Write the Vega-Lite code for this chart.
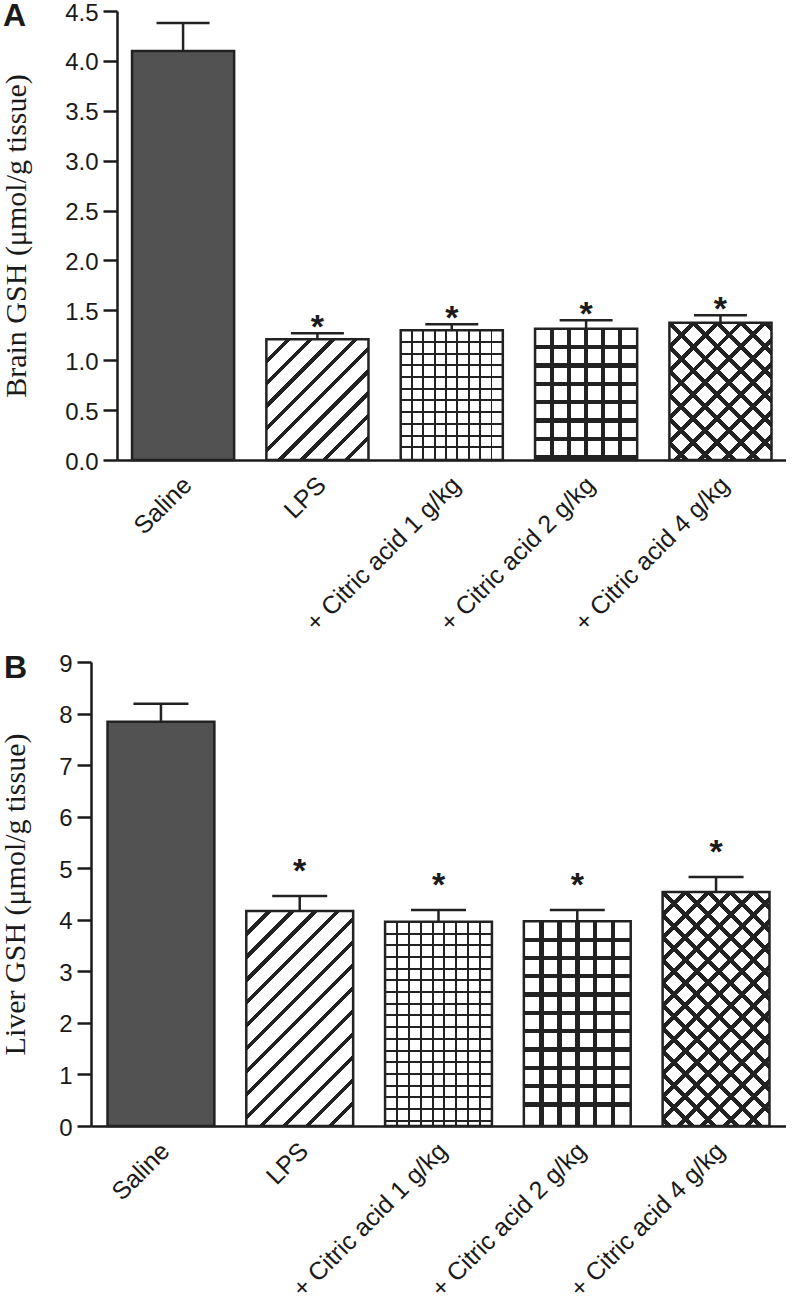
{
"$schema":"https://vega.github.io/schema/vega-lite/v6.json",
"background":"white",
"padding":{"left":0,"top":0,"right":0,"bottom":0},
"config":{
 "view":{"stroke":null},
 "font":"Liberation Sans",
 "axis":{"domainColor":"#1a1a1a","domainWidth":2.5,"tickColor":"#1a1a1a","tickWidth":2.5,"labelColor":"#1a1a1a","titleColor":"#1a1a1a","grid":false,"labelFont":"Liberation Sans","labelLimit":400},
 "axisY":{"tickSize":14,"labelFontSize":24,"labelPadding":5,"labelOffset":2,"titleFont":"Liberation Serif","titleFontSize":30,"titleFontWeight":"normal"},
 "axisX":{"ticks":false,"tickSize":0,"labelAngle":-45,"labelFontSize":25,"labelPadding":12,"labelOffset":-4}
},
"datasets":{
 "brain":[
  {"group":"Saline","mean":4.10,"hi":4.38,"sig":""},
  {"group":"LPS","mean":1.21,"hi":1.27,"sig":"*"},
  {"group":"+ Citric acid 1 g/kg","mean":1.30,"hi":1.36,"sig":"*"},
  {"group":"+ Citric acid 2 g/kg","mean":1.315,"hi":1.40,"sig":"*"},
  {"group":"+ Citric acid 4 g/kg","mean":1.375,"hi":1.45,"sig":"*"}
 ],
 "liver":[
  {"group":"Saline","mean":7.84,"hi":8.19,"sig":""},
  {"group":"LPS","mean":4.17,"hi":4.46,"sig":"*"},
  {"group":"+ Citric acid 1 g/kg","mean":3.96,"hi":4.19,"sig":"*"},
  {"group":"+ Citric acid 2 g/kg","mean":3.97,"hi":4.19,"sig":"*"},
  {"group":"+ Citric acid 4 g/kg","mean":4.54,"hi":4.83,"sig":"*"}
 ]
},
"concat":[
 {
  "data":{"name":"brain"},
  "width":695,"height":449,
  "title":{"text":"A","anchor":"start","frame":"bounds","fontSize":32,"fontWeight":"bold","font":"Liberation Sans","color":"#1a1a1a","offset":-33,"dx":2},
  "encoding":{
   "x":{"field":"group","type":"nominal","sort":null,"title":null,"scale":{"paddingInner":0.24,"paddingOuter":0.2066,"align":0.739},"axis":{"domainDash":[0,26,1000]}},
   "y":{"field":"mean","type":"quantitative","title":"Brain GSH (μmol/g tissue)","scale":{"domain":[0,4.5],"nice":false},"axis":{"values":[0,0.5,1,1.5,2,2.5,3,3.5,4,4.5],"format":".1f","titlePadding":33.6,"offset":-26}}
  },
  "layer":[
   {"mark":{"type":"bar","strokeWidth":0},
    "encoding":{"fill":{"condition":[
     {"test":"datum.group === 'LPS'","value":{"gradient":"linear","x1":0,"y1":0,"x2":0.9102,"y2":1.076,"stops":[{"offset":0,"color":"#fff"},{"offset":0.088,"color":"#fff"},{"offset":0.088,"color":"#222"},{"offset":0.112,"color":"#222"},{"offset":0.112,"color":"#fff"},{"offset":0.188,"color":"#fff"},{"offset":0.188,"color":"#222"},{"offset":0.212,"color":"#222"},{"offset":0.212,"color":"#fff"},{"offset":0.288,"color":"#fff"},{"offset":0.288,"color":"#222"},{"offset":0.312,"color":"#222"},{"offset":0.312,"color":"#fff"},{"offset":0.388,"color":"#fff"},{"offset":0.388,"color":"#222"},{"offset":0.412,"color":"#222"},{"offset":0.412,"color":"#fff"},{"offset":0.488,"color":"#fff"},{"offset":0.488,"color":"#222"},{"offset":0.512,"color":"#222"},{"offset":0.512,"color":"#fff"},{"offset":0.588,"color":"#fff"},{"offset":0.588,"color":"#222"},{"offset":0.612,"color":"#222"},{"offset":0.612,"color":"#fff"},{"offset":0.688,"color":"#fff"},{"offset":0.688,"color":"#222"},{"offset":0.712,"color":"#222"},{"offset":0.712,"color":"#fff"},{"offset":0.788,"color":"#fff"},{"offset":0.788,"color":"#222"},{"offset":0.812,"color":"#222"},{"offset":0.812,"color":"#fff"},{"offset":0.888,"color":"#fff"},{"offset":0.888,"color":"#222"},{"offset":0.912,"color":"#222"},{"offset":0.912,"color":"#fff"},{"offset":1,"color":"#fff"}]}},
     {"test":"datum.group === '+ Citric acid 1 g/kg'","value":{"gradient":"linear","x1":0,"y1":0,"x2":1,"y2":0,"stops":[{"offset":0,"color":"#fff"},{"offset":0.1016,"color":"#fff"},{"offset":0.1016,"color":"#222"},{"offset":0.1206,"color":"#222"},{"offset":0.1206,"color":"#fff"},{"offset":0.2127,"color":"#fff"},{"offset":0.2127,"color":"#222"},{"offset":0.2317,"color":"#222"},{"offset":0.2317,"color":"#fff"},{"offset":0.3238,"color":"#fff"},{"offset":0.3238,"color":"#222"},{"offset":0.3428,"color":"#222"},{"offset":0.3428,"color":"#fff"},{"offset":0.4349,"color":"#fff"},{"offset":0.4349,"color":"#222"},{"offset":0.4539,"color":"#222"},{"offset":0.4539,"color":"#fff"},{"offset":0.5461,"color":"#fff"},{"offset":0.5461,"color":"#222"},{"offset":0.5651,"color":"#222"},{"offset":0.5651,"color":"#fff"},{"offset":0.6572,"color":"#fff"},{"offset":0.6572,"color":"#222"},{"offset":0.6762,"color":"#222"},{"offset":0.6762,"color":"#fff"},{"offset":0.7683,"color":"#fff"},{"offset":0.7683,"color":"#222"},{"offset":0.7873,"color":"#222"},{"offset":0.7873,"color":"#fff"},{"offset":0.8794,"color":"#fff"},{"offset":0.8794,"color":"#222"},{"offset":0.8984,"color":"#222"},{"offset":0.8984,"color":"#fff"},{"offset":1,"color":"#fff"}]}},
     {"test":"datum.group === '+ Citric acid 2 g/kg'","value":{"gradient":"linear","x1":0,"y1":0,"x2":1,"y2":0,"stops":[{"offset":0,"color":"#fff"},{"offset":0.1457,"color":"#fff"},{"offset":0.1457,"color":"#222"},{"offset":0.1877,"color":"#222"},{"offset":0.1877,"color":"#fff"},{"offset":0.3123,"color":"#fff"},{"offset":0.3123,"color":"#222"},{"offset":0.3543,"color":"#222"},{"offset":0.3543,"color":"#fff"},{"offset":0.479,"color":"#fff"},{"offset":0.479,"color":"#222"},{"offset":0.521,"color":"#222"},{"offset":0.521,"color":"#fff"},{"offset":0.6457,"color":"#fff"},{"offset":0.6457,"color":"#222"},{"offset":0.6877,"color":"#222"},{"offset":0.6877,"color":"#fff"},{"offset":0.8123,"color":"#fff"},{"offset":0.8123,"color":"#222"},{"offset":0.8543,"color":"#222"},{"offset":0.8543,"color":"#fff"},{"offset":1,"color":"#fff"}]}},
     {"test":"datum.group === '+ Citric acid 4 g/kg'","value":{"gradient":"linear","x1":0,"y1":0,"x2":0.8354,"y2":1.1225,"stops":[{"offset":0,"color":"#fff"},{"offset":0.0875,"color":"#fff"},{"offset":0.0875,"color":"#222"},{"offset":0.1125,"color":"#222"},{"offset":0.1125,"color":"#fff"},{"offset":0.1875,"color":"#fff"},{"offset":0.1875,"color":"#222"},{"offset":0.2125,"color":"#222"},{"offset":0.2125,"color":"#fff"},{"offset":0.2875,"color":"#fff"},{"offset":0.2875,"color":"#222"},{"offset":0.3125,"color":"#222"},{"offset":0.3125,"color":"#fff"},{"offset":0.3875,"color":"#fff"},{"offset":0.3875,"color":"#222"},{"offset":0.4125,"color":"#222"},{"offset":0.4125,"color":"#fff"},{"offset":0.4875,"color":"#fff"},{"offset":0.4875,"color":"#222"},{"offset":0.5125,"color":"#222"},{"offset":0.5125,"color":"#fff"},{"offset":0.5875,"color":"#fff"},{"offset":0.5875,"color":"#222"},{"offset":0.6125,"color":"#222"},{"offset":0.6125,"color":"#fff"},{"offset":0.6875,"color":"#fff"},{"offset":0.6875,"color":"#222"},{"offset":0.7125,"color":"#222"},{"offset":0.7125,"color":"#fff"},{"offset":0.7875,"color":"#fff"},{"offset":0.7875,"color":"#222"},{"offset":0.8125,"color":"#222"},{"offset":0.8125,"color":"#fff"},{"offset":0.8875,"color":"#fff"},{"offset":0.8875,"color":"#222"},{"offset":0.9125,"color":"#222"},{"offset":0.9125,"color":"#fff"},{"offset":1,"color":"#fff"}]}}
    ],"value":"#525252"}}},
   {"mark":{"type":"bar","stroke":"#222","strokeWidth":2.5},
    "encoding":{"fill":{"condition":[
     {"test":"datum.group === '+ Citric acid 1 g/kg'","value":{"gradient":"linear","x1":0,"y1":0,"x2":0,"y2":1,"stops":[{"offset":0,"color":"rgba(34,34,34,0)"},{"offset":0.0825,"color":"rgba(34,34,34,0)"},{"offset":0.0825,"color":"#222"},{"offset":0.0979,"color":"#222"},{"offset":0.0979,"color":"rgba(34,34,34,0)"},{"offset":0.1727,"color":"rgba(34,34,34,0)"},{"offset":0.1727,"color":"#222"},{"offset":0.1881,"color":"#222"},{"offset":0.1881,"color":"rgba(34,34,34,0)"},{"offset":0.2629,"color":"rgba(34,34,34,0)"},{"offset":0.2629,"color":"#222"},{"offset":0.2783,"color":"#222"},{"offset":0.2783,"color":"rgba(34,34,34,0)"},{"offset":0.3531,"color":"rgba(34,34,34,0)"},{"offset":0.3531,"color":"#222"},{"offset":0.3685,"color":"#222"},{"offset":0.3685,"color":"rgba(34,34,34,0)"},{"offset":0.4433,"color":"rgba(34,34,34,0)"},{"offset":0.4433,"color":"#222"},{"offset":0.4587,"color":"#222"},{"offset":0.4587,"color":"rgba(34,34,34,0)"},{"offset":0.5335,"color":"rgba(34,34,34,0)"},{"offset":0.5335,"color":"#222"},{"offset":0.5489,"color":"#222"},{"offset":0.5489,"color":"rgba(34,34,34,0)"},{"offset":0.6237,"color":"rgba(34,34,34,0)"},{"offset":0.6237,"color":"#222"},{"offset":0.6391,"color":"#222"},{"offset":0.6391,"color":"rgba(34,34,34,0)"},{"offset":0.7139,"color":"rgba(34,34,34,0)"},{"offset":0.7139,"color":"#222"},{"offset":0.7293,"color":"#222"},{"offset":0.7293,"color":"rgba(34,34,34,0)"},{"offset":0.8041,"color":"rgba(34,34,34,0)"},{"offset":0.8041,"color":"#222"},{"offset":0.8195,"color":"#222"},{"offset":0.8195,"color":"rgba(34,34,34,0)"},{"offset":0.8943,"color":"rgba(34,34,34,0)"},{"offset":0.8943,"color":"#222"},{"offset":0.9097,"color":"#222"},{"offset":0.9097,"color":"rgba(34,34,34,0)"},{"offset":1,"color":"rgba(34,34,34,0)"}]}},
     {"test":"datum.group === '+ Citric acid 2 g/kg'","value":{"gradient":"linear","x1":0,"y1":0,"x2":0,"y2":1,"stops":[{"offset":0,"color":"rgba(34,34,34,0)"},{"offset":0.1233,"color":"rgba(34,34,34,0)"},{"offset":0.1233,"color":"#222"},{"offset":0.1561,"color":"#222"},{"offset":0.1561,"color":"rgba(34,34,34,0)"},{"offset":0.263,"color":"rgba(34,34,34,0)"},{"offset":0.263,"color":"#222"},{"offset":0.2958,"color":"#222"},{"offset":0.2958,"color":"rgba(34,34,34,0)"},{"offset":0.4027,"color":"rgba(34,34,34,0)"},{"offset":0.4027,"color":"#222"},{"offset":0.4355,"color":"#222"},{"offset":0.4355,"color":"rgba(34,34,34,0)"},{"offset":0.5424,"color":"rgba(34,34,34,0)"},{"offset":0.5424,"color":"#222"},{"offset":0.5752,"color":"#222"},{"offset":0.5752,"color":"rgba(34,34,34,0)"},{"offset":0.6821,"color":"rgba(34,34,34,0)"},{"offset":0.6821,"color":"#222"},{"offset":0.7149,"color":"#222"},{"offset":0.7149,"color":"rgba(34,34,34,0)"},{"offset":0.8218,"color":"rgba(34,34,34,0)"},{"offset":0.8218,"color":"#222"},{"offset":0.8546,"color":"#222"},{"offset":0.8546,"color":"rgba(34,34,34,0)"},{"offset":0.9615,"color":"rgba(34,34,34,0)"},{"offset":0.9615,"color":"#222"},{"offset":0.9943,"color":"#222"},{"offset":0.9943,"color":"rgba(34,34,34,0)"},{"offset":1,"color":"rgba(34,34,34,0)"}]}},
     {"test":"datum.group === '+ Citric acid 4 g/kg'","value":{"gradient":"linear","x1":0,"y1":1,"x2":0.8354,"y2":-0.1225,"stops":[{"offset":0,"color":"rgba(34,34,34,0)"},{"offset":0.0608,"color":"rgba(34,34,34,0)"},{"offset":0.0608,"color":"#222"},{"offset":0.0858,"color":"#222"},{"offset":0.0858,"color":"rgba(34,34,34,0)"},{"offset":0.1608,"color":"rgba(34,34,34,0)"},{"offset":0.1608,"color":"#222"},{"offset":0.1858,"color":"#222"},{"offset":0.1858,"color":"rgba(34,34,34,0)"},{"offset":0.2608,"color":"rgba(34,34,34,0)"},{"offset":0.2608,"color":"#222"},{"offset":0.2858,"color":"#222"},{"offset":0.2858,"color":"rgba(34,34,34,0)"},{"offset":0.3608,"color":"rgba(34,34,34,0)"},{"offset":0.3608,"color":"#222"},{"offset":0.3858,"color":"#222"},{"offset":0.3858,"color":"rgba(34,34,34,0)"},{"offset":0.4608,"color":"rgba(34,34,34,0)"},{"offset":0.4608,"color":"#222"},{"offset":0.4858,"color":"#222"},{"offset":0.4858,"color":"rgba(34,34,34,0)"},{"offset":0.5608,"color":"rgba(34,34,34,0)"},{"offset":0.5608,"color":"#222"},{"offset":0.5858,"color":"#222"},{"offset":0.5858,"color":"rgba(34,34,34,0)"},{"offset":0.6608,"color":"rgba(34,34,34,0)"},{"offset":0.6608,"color":"#222"},{"offset":0.6858,"color":"#222"},{"offset":0.6858,"color":"rgba(34,34,34,0)"},{"offset":0.7608,"color":"rgba(34,34,34,0)"},{"offset":0.7608,"color":"#222"},{"offset":0.7858,"color":"#222"},{"offset":0.7858,"color":"rgba(34,34,34,0)"},{"offset":0.8608,"color":"rgba(34,34,34,0)"},{"offset":0.8608,"color":"#222"},{"offset":0.8858,"color":"#222"},{"offset":0.8858,"color":"rgba(34,34,34,0)"},{"offset":0.9608,"color":"rgba(34,34,34,0)"},{"offset":0.9608,"color":"#222"},{"offset":0.9858,"color":"#222"},{"offset":0.9858,"color":"rgba(34,34,34,0)"},{"offset":1,"color":"rgba(34,34,34,0)"}]}}
    ],"value":"transparent"}}},
   {"mark":{"type":"rule","color":"#222","strokeWidth":2.5},"encoding":{"y2":{"field":"hi"}}},
   {"mark":{"type":"tick","orient":"horizontal","size":53,"thickness":2.5,"color":"#222","opacity":1},
    "encoding":{"y":{"field":"hi","type":"quantitative","title":"Brain GSH (μmol/g tissue)","scale":{"domain":[0,4.5],"nice":false}}}},
   {"mark":{"type":"text","fontSize":34,"fontWeight":"bold","baseline":"alphabetic","dy":4.5,"color":"#1a1a1a"},
    "encoding":{"y":{"field":"hi","type":"quantitative","title":"Brain GSH (μmol/g tissue)","scale":{"domain":[0,4.5],"nice":false}},"text":{"field":"sig"}}}
  ]
 },
 {
  "data":{"name":"liver"},
  "width":695,"height":464,
  "title":{"text":"B","anchor":"start","frame":"bounds","fontSize":32,"fontWeight":"bold","font":"Liberation Sans","color":"#1a1a1a","offset":-33,"dx":3},
  "encoding":{
   "x":{"field":"group","type":"nominal","sort":null,"title":null,"scale":{"paddingInner":0.23,"paddingOuter":0.119}},
   "y":{"field":"mean","type":"quantitative","title":"Liver GSH (μmol/g tissue)","scale":{"domain":[0,9],"nice":false},"axis":{"values":[0,1,2,3,4,5,6,7,8,9],"format":"d","titlePadding":27.7}}
  },
  "layer":[
   {"mark":{"type":"bar","strokeWidth":0},
    "encoding":{"fill":{"condition":[
     {"test":"datum.group === 'LPS'","value":{"gradient":"linear","x1":0,"y1":0,"x2":0.5967,"y2":1.2005,"stops":[{"offset":0,"color":"#fff"},{"offset":0.0629,"color":"#fff"},{"offset":0.0629,"color":"#222"},{"offset":0.0799,"color":"#222"},{"offset":0.0799,"color":"#fff"},{"offset":0.1344,"color":"#fff"},{"offset":0.1344,"color":"#222"},{"offset":0.1514,"color":"#222"},{"offset":0.1514,"color":"#fff"},{"offset":0.2058,"color":"#fff"},{"offset":0.2058,"color":"#222"},{"offset":0.2228,"color":"#222"},{"offset":0.2228,"color":"#fff"},{"offset":0.2772,"color":"#fff"},{"offset":0.2772,"color":"#222"},{"offset":0.2942,"color":"#222"},{"offset":0.2942,"color":"#fff"},{"offset":0.3486,"color":"#fff"},{"offset":0.3486,"color":"#222"},{"offset":0.3656,"color":"#222"},{"offset":0.3656,"color":"#fff"},{"offset":0.4201,"color":"#fff"},{"offset":0.4201,"color":"#222"},{"offset":0.4371,"color":"#222"},{"offset":0.4371,"color":"#fff"},{"offset":0.4915,"color":"#fff"},{"offset":0.4915,"color":"#222"},{"offset":0.5085,"color":"#222"},{"offset":0.5085,"color":"#fff"},{"offset":0.5629,"color":"#fff"},{"offset":0.5629,"color":"#222"},{"offset":0.5799,"color":"#222"},{"offset":0.5799,"color":"#fff"},{"offset":0.6344,"color":"#fff"},{"offset":0.6344,"color":"#222"},{"offset":0.6514,"color":"#222"},{"offset":0.6514,"color":"#fff"},{"offset":0.7058,"color":"#fff"},{"offset":0.7058,"color":"#222"},{"offset":0.7228,"color":"#222"},{"offset":0.7228,"color":"#fff"},{"offset":0.7772,"color":"#fff"},{"offset":0.7772,"color":"#222"},{"offset":0.7942,"color":"#222"},{"offset":0.7942,"color":"#fff"},{"offset":0.8486,"color":"#fff"},{"offset":0.8486,"color":"#222"},{"offset":0.8656,"color":"#222"},{"offset":0.8656,"color":"#fff"},{"offset":0.9201,"color":"#fff"},{"offset":0.9201,"color":"#222"},{"offset":0.9371,"color":"#222"},{"offset":0.9371,"color":"#fff"},{"offset":1,"color":"#fff"}]}},
     {"test":"datum.group === '+ Citric acid 1 g/kg'","value":{"gradient":"linear","x1":0,"y1":0,"x2":1,"y2":0,"stops":[{"offset":0,"color":"#fff"},{"offset":0.1016,"color":"#fff"},{"offset":0.1016,"color":"#222"},{"offset":0.1206,"color":"#222"},{"offset":0.1206,"color":"#fff"},{"offset":0.2127,"color":"#fff"},{"offset":0.2127,"color":"#222"},{"offset":0.2317,"color":"#222"},{"offset":0.2317,"color":"#fff"},{"offset":0.3238,"color":"#fff"},{"offset":0.3238,"color":"#222"},{"offset":0.3428,"color":"#222"},{"offset":0.3428,"color":"#fff"},{"offset":0.4349,"color":"#fff"},{"offset":0.4349,"color":"#222"},{"offset":0.4539,"color":"#222"},{"offset":0.4539,"color":"#fff"},{"offset":0.5461,"color":"#fff"},{"offset":0.5461,"color":"#222"},{"offset":0.5651,"color":"#222"},{"offset":0.5651,"color":"#fff"},{"offset":0.6572,"color":"#fff"},{"offset":0.6572,"color":"#222"},{"offset":0.6762,"color":"#222"},{"offset":0.6762,"color":"#fff"},{"offset":0.7683,"color":"#fff"},{"offset":0.7683,"color":"#222"},{"offset":0.7873,"color":"#222"},{"offset":0.7873,"color":"#fff"},{"offset":0.8794,"color":"#fff"},{"offset":0.8794,"color":"#222"},{"offset":0.8984,"color":"#222"},{"offset":0.8984,"color":"#fff"},{"offset":1,"color":"#fff"}]}},
     {"test":"datum.group === '+ Citric acid 2 g/kg'","value":{"gradient":"linear","x1":0,"y1":0,"x2":1,"y2":0,"stops":[{"offset":0,"color":"#fff"},{"offset":0.1457,"color":"#fff"},{"offset":0.1457,"color":"#222"},{"offset":0.1877,"color":"#222"},{"offset":0.1877,"color":"#fff"},{"offset":0.3123,"color":"#fff"},{"offset":0.3123,"color":"#222"},{"offset":0.3543,"color":"#222"},{"offset":0.3543,"color":"#fff"},{"offset":0.479,"color":"#fff"},{"offset":0.479,"color":"#222"},{"offset":0.521,"color":"#222"},{"offset":0.521,"color":"#fff"},{"offset":0.6457,"color":"#fff"},{"offset":0.6457,"color":"#222"},{"offset":0.6877,"color":"#222"},{"offset":0.6877,"color":"#fff"},{"offset":0.8123,"color":"#fff"},{"offset":0.8123,"color":"#222"},{"offset":0.8543,"color":"#222"},{"offset":0.8543,"color":"#fff"},{"offset":1,"color":"#fff"}]}},
     {"test":"datum.group === '+ Citric acid 4 g/kg'","value":{"gradient":"linear","x1":0,"y1":0,"x2":0.5503,"y2":1.2053,"stops":[{"offset":0,"color":"#fff"},{"offset":0.0579,"color":"#fff"},{"offset":0.0579,"color":"#222"},{"offset":0.0755,"color":"#222"},{"offset":0.0755,"color":"#fff"},{"offset":0.1245,"color":"#fff"},{"offset":0.1245,"color":"#222"},{"offset":0.1421,"color":"#222"},{"offset":0.1421,"color":"#fff"},{"offset":0.1912,"color":"#fff"},{"offset":0.1912,"color":"#222"},{"offset":0.2088,"color":"#222"},{"offset":0.2088,"color":"#fff"},{"offset":0.2579,"color":"#fff"},{"offset":0.2579,"color":"#222"},{"offset":0.2755,"color":"#222"},{"offset":0.2755,"color":"#fff"},{"offset":0.3245,"color":"#fff"},{"offset":0.3245,"color":"#222"},{"offset":0.3421,"color":"#222"},{"offset":0.3421,"color":"#fff"},{"offset":0.3912,"color":"#fff"},{"offset":0.3912,"color":"#222"},{"offset":0.4088,"color":"#222"},{"offset":0.4088,"color":"#fff"},{"offset":0.4579,"color":"#fff"},{"offset":0.4579,"color":"#222"},{"offset":0.4755,"color":"#222"},{"offset":0.4755,"color":"#fff"},{"offset":0.5245,"color":"#fff"},{"offset":0.5245,"color":"#222"},{"offset":0.5421,"color":"#222"},{"offset":0.5421,"color":"#fff"},{"offset":0.5912,"color":"#fff"},{"offset":0.5912,"color":"#222"},{"offset":0.6088,"color":"#222"},{"offset":0.6088,"color":"#fff"},{"offset":0.6579,"color":"#fff"},{"offset":0.6579,"color":"#222"},{"offset":0.6755,"color":"#222"},{"offset":0.6755,"color":"#fff"},{"offset":0.7245,"color":"#fff"},{"offset":0.7245,"color":"#222"},{"offset":0.7421,"color":"#222"},{"offset":0.7421,"color":"#fff"},{"offset":0.7912,"color":"#fff"},{"offset":0.7912,"color":"#222"},{"offset":0.8088,"color":"#222"},{"offset":0.8088,"color":"#fff"},{"offset":0.8579,"color":"#fff"},{"offset":0.8579,"color":"#222"},{"offset":0.8755,"color":"#222"},{"offset":0.8755,"color":"#fff"},{"offset":0.9245,"color":"#fff"},{"offset":0.9245,"color":"#222"},{"offset":0.9421,"color":"#222"},{"offset":0.9421,"color":"#fff"},{"offset":1,"color":"#fff"}]}}
    ],"value":"#525252"}}},
   {"mark":{"type":"bar","stroke":"#222","strokeWidth":2.5},
    "encoding":{"fill":{"condition":[
     {"test":"datum.group === '+ Citric acid 1 g/kg'","value":{"gradient":"linear","x1":0,"y1":0,"x2":0,"y2":1,"stops":[{"offset":0,"color":"rgba(34,34,34,0)"},{"offset":0.0524,"color":"rgba(34,34,34,0)"},{"offset":0.0524,"color":"#222"},{"offset":0.0622,"color":"#222"},{"offset":0.0622,"color":"rgba(34,34,34,0)"},{"offset":0.1097,"color":"rgba(34,34,34,0)"},{"offset":0.1097,"color":"#222"},{"offset":0.1195,"color":"#222"},{"offset":0.1195,"color":"rgba(34,34,34,0)"},{"offset":0.167,"color":"rgba(34,34,34,0)"},{"offset":0.167,"color":"#222"},{"offset":0.1768,"color":"#222"},{"offset":0.1768,"color":"rgba(34,34,34,0)"},{"offset":0.2243,"color":"rgba(34,34,34,0)"},{"offset":0.2243,"color":"#222"},{"offset":0.2341,"color":"#222"},{"offset":0.2341,"color":"rgba(34,34,34,0)"},{"offset":0.2817,"color":"rgba(34,34,34,0)"},{"offset":0.2817,"color":"#222"},{"offset":0.2915,"color":"#222"},{"offset":0.2915,"color":"rgba(34,34,34,0)"},{"offset":0.339,"color":"rgba(34,34,34,0)"},{"offset":0.339,"color":"#222"},{"offset":0.3488,"color":"#222"},{"offset":0.3488,"color":"rgba(34,34,34,0)"},{"offset":0.3963,"color":"rgba(34,34,34,0)"},{"offset":0.3963,"color":"#222"},{"offset":0.4061,"color":"#222"},{"offset":0.4061,"color":"rgba(34,34,34,0)"},{"offset":0.4536,"color":"rgba(34,34,34,0)"},{"offset":0.4536,"color":"#222"},{"offset":0.4634,"color":"#222"},{"offset":0.4634,"color":"rgba(34,34,34,0)"},{"offset":0.5109,"color":"rgba(34,34,34,0)"},{"offset":0.5109,"color":"#222"},{"offset":0.5207,"color":"#222"},{"offset":0.5207,"color":"rgba(34,34,34,0)"},{"offset":0.5682,"color":"rgba(34,34,34,0)"},{"offset":0.5682,"color":"#222"},{"offset":0.578,"color":"#222"},{"offset":0.578,"color":"rgba(34,34,34,0)"},{"offset":0.6255,"color":"rgba(34,34,34,0)"},{"offset":0.6255,"color":"#222"},{"offset":0.6353,"color":"#222"},{"offset":0.6353,"color":"rgba(34,34,34,0)"},{"offset":0.6828,"color":"rgba(34,34,34,0)"},{"offset":0.6828,"color":"#222"},{"offset":0.6926,"color":"#222"},{"offset":0.6926,"color":"rgba(34,34,34,0)"},{"offset":0.7401,"color":"rgba(34,34,34,0)"},{"offset":0.7401,"color":"#222"},{"offset":0.7499,"color":"#222"},{"offset":0.7499,"color":"rgba(34,34,34,0)"},{"offset":0.7974,"color":"rgba(34,34,34,0)"},{"offset":0.7974,"color":"#222"},{"offset":0.8072,"color":"#222"},{"offset":0.8072,"color":"rgba(34,34,34,0)"},{"offset":0.8548,"color":"rgba(34,34,34,0)"},{"offset":0.8548,"color":"#222"},{"offset":0.8646,"color":"#222"},{"offset":0.8646,"color":"rgba(34,34,34,0)"},{"offset":0.9121,"color":"rgba(34,34,34,0)"},{"offset":0.9121,"color":"#222"},{"offset":0.9219,"color":"#222"},{"offset":0.9219,"color":"rgba(34,34,34,0)"},{"offset":0.9694,"color":"rgba(34,34,34,0)"},{"offset":0.9694,"color":"#222"},{"offset":0.9792,"color":"#222"},{"offset":0.9792,"color":"rgba(34,34,34,0)"},{"offset":1,"color":"rgba(34,34,34,0)"}]}},
     {"test":"datum.group === '+ Citric acid 2 g/kg'","value":{"gradient":"linear","x1":0,"y1":0,"x2":0,"y2":1,"stops":[{"offset":0,"color":"rgba(34,34,34,0)"},{"offset":0.0791,"color":"rgba(34,34,34,0)"},{"offset":0.0791,"color":"#222"},{"offset":0.1001,"color":"#222"},{"offset":0.1001,"color":"rgba(34,34,34,0)"},{"offset":0.1686,"color":"rgba(34,34,34,0)"},{"offset":0.1686,"color":"#222"},{"offset":0.1896,"color":"#222"},{"offset":0.1896,"color":"rgba(34,34,34,0)"},{"offset":0.2582,"color":"rgba(34,34,34,0)"},{"offset":0.2582,"color":"#222"},{"offset":0.2792,"color":"#222"},{"offset":0.2792,"color":"rgba(34,34,34,0)"},{"offset":0.3477,"color":"rgba(34,34,34,0)"},{"offset":0.3477,"color":"#222"},{"offset":0.3687,"color":"#222"},{"offset":0.3687,"color":"rgba(34,34,34,0)"},{"offset":0.4373,"color":"rgba(34,34,34,0)"},{"offset":0.4373,"color":"#222"},{"offset":0.4583,"color":"#222"},{"offset":0.4583,"color":"rgba(34,34,34,0)"},{"offset":0.5268,"color":"rgba(34,34,34,0)"},{"offset":0.5268,"color":"#222"},{"offset":0.5478,"color":"#222"},{"offset":0.5478,"color":"rgba(34,34,34,0)"},{"offset":0.6164,"color":"rgba(34,34,34,0)"},{"offset":0.6164,"color":"#222"},{"offset":0.6374,"color":"#222"},{"offset":0.6374,"color":"rgba(34,34,34,0)"},{"offset":0.7059,"color":"rgba(34,34,34,0)"},{"offset":0.7059,"color":"#222"},{"offset":0.7269,"color":"#222"},{"offset":0.7269,"color":"rgba(34,34,34,0)"},{"offset":0.7955,"color":"rgba(34,34,34,0)"},{"offset":0.7955,"color":"#222"},{"offset":0.8165,"color":"#222"},{"offset":0.8165,"color":"rgba(34,34,34,0)"},{"offset":0.885,"color":"rgba(34,34,34,0)"},{"offset":0.885,"color":"#222"},{"offset":0.906,"color":"#222"},{"offset":0.906,"color":"rgba(34,34,34,0)"},{"offset":1,"color":"rgba(34,34,34,0)"}]}},
     {"test":"datum.group === '+ Citric acid 4 g/kg'","value":{"gradient":"linear","x1":0,"y1":1,"x2":0.5503,"y2":-0.2053,"stops":[{"offset":0,"color":"rgba(34,34,34,0)"},{"offset":0.0111,"color":"rgba(34,34,34,0)"},{"offset":0.0111,"color":"#222"},{"offset":0.0287,"color":"#222"},{"offset":0.0287,"color":"rgba(34,34,34,0)"},{"offset":0.0777,"color":"rgba(34,34,34,0)"},{"offset":0.0777,"color":"#222"},{"offset":0.0953,"color":"#222"},{"offset":0.0953,"color":"rgba(34,34,34,0)"},{"offset":0.1444,"color":"rgba(34,34,34,0)"},{"offset":0.1444,"color":"#222"},{"offset":0.162,"color":"#222"},{"offset":0.162,"color":"rgba(34,34,34,0)"},{"offset":0.2111,"color":"rgba(34,34,34,0)"},{"offset":0.2111,"color":"#222"},{"offset":0.2287,"color":"#222"},{"offset":0.2287,"color":"rgba(34,34,34,0)"},{"offset":0.2777,"color":"rgba(34,34,34,0)"},{"offset":0.2777,"color":"#222"},{"offset":0.2953,"color":"#222"},{"offset":0.2953,"color":"rgba(34,34,34,0)"},{"offset":0.3444,"color":"rgba(34,34,34,0)"},{"offset":0.3444,"color":"#222"},{"offset":0.362,"color":"#222"},{"offset":0.362,"color":"rgba(34,34,34,0)"},{"offset":0.4111,"color":"rgba(34,34,34,0)"},{"offset":0.4111,"color":"#222"},{"offset":0.4287,"color":"#222"},{"offset":0.4287,"color":"rgba(34,34,34,0)"},{"offset":0.4777,"color":"rgba(34,34,34,0)"},{"offset":0.4777,"color":"#222"},{"offset":0.4953,"color":"#222"},{"offset":0.4953,"color":"rgba(34,34,34,0)"},{"offset":0.5444,"color":"rgba(34,34,34,0)"},{"offset":0.5444,"color":"#222"},{"offset":0.562,"color":"#222"},{"offset":0.562,"color":"rgba(34,34,34,0)"},{"offset":0.6111,"color":"rgba(34,34,34,0)"},{"offset":0.6111,"color":"#222"},{"offset":0.6287,"color":"#222"},{"offset":0.6287,"color":"rgba(34,34,34,0)"},{"offset":0.6777,"color":"rgba(34,34,34,0)"},{"offset":0.6777,"color":"#222"},{"offset":0.6953,"color":"#222"},{"offset":0.6953,"color":"rgba(34,34,34,0)"},{"offset":0.7444,"color":"rgba(34,34,34,0)"},{"offset":0.7444,"color":"#222"},{"offset":0.762,"color":"#222"},{"offset":0.762,"color":"rgba(34,34,34,0)"},{"offset":0.8111,"color":"rgba(34,34,34,0)"},{"offset":0.8111,"color":"#222"},{"offset":0.8287,"color":"#222"},{"offset":0.8287,"color":"rgba(34,34,34,0)"},{"offset":0.8777,"color":"rgba(34,34,34,0)"},{"offset":0.8777,"color":"#222"},{"offset":0.8953,"color":"#222"},{"offset":0.8953,"color":"rgba(34,34,34,0)"},{"offset":0.9444,"color":"rgba(34,34,34,0)"},{"offset":0.9444,"color":"#222"},{"offset":0.962,"color":"#222"},{"offset":0.962,"color":"rgba(34,34,34,0)"},{"offset":1,"color":"rgba(34,34,34,0)"}]}}
    ],"value":"transparent"}}},
   {"mark":{"type":"rule","color":"#222","strokeWidth":2.5},"encoding":{"y2":{"field":"hi"}}},
   {"mark":{"type":"tick","orient":"horizontal","size":55,"thickness":2.5,"color":"#222","opacity":1},
    "encoding":{"y":{"field":"hi","type":"quantitative","title":"Liver GSH (μmol/g tissue)","scale":{"domain":[0,9],"nice":false}}}},
   {"mark":{"type":"text","fontSize":34,"fontWeight":"bold","baseline":"alphabetic","dy":-13.8,"color":"#1a1a1a"},
    "encoding":{"y":{"field":"hi","type":"quantitative","title":"Liver GSH (μmol/g tissue)","scale":{"domain":[0,9],"nice":false}},"text":{"field":"sig"}}}
  ]
 }
],
"columns":1,
"align":"none",
"spacing":16
}
